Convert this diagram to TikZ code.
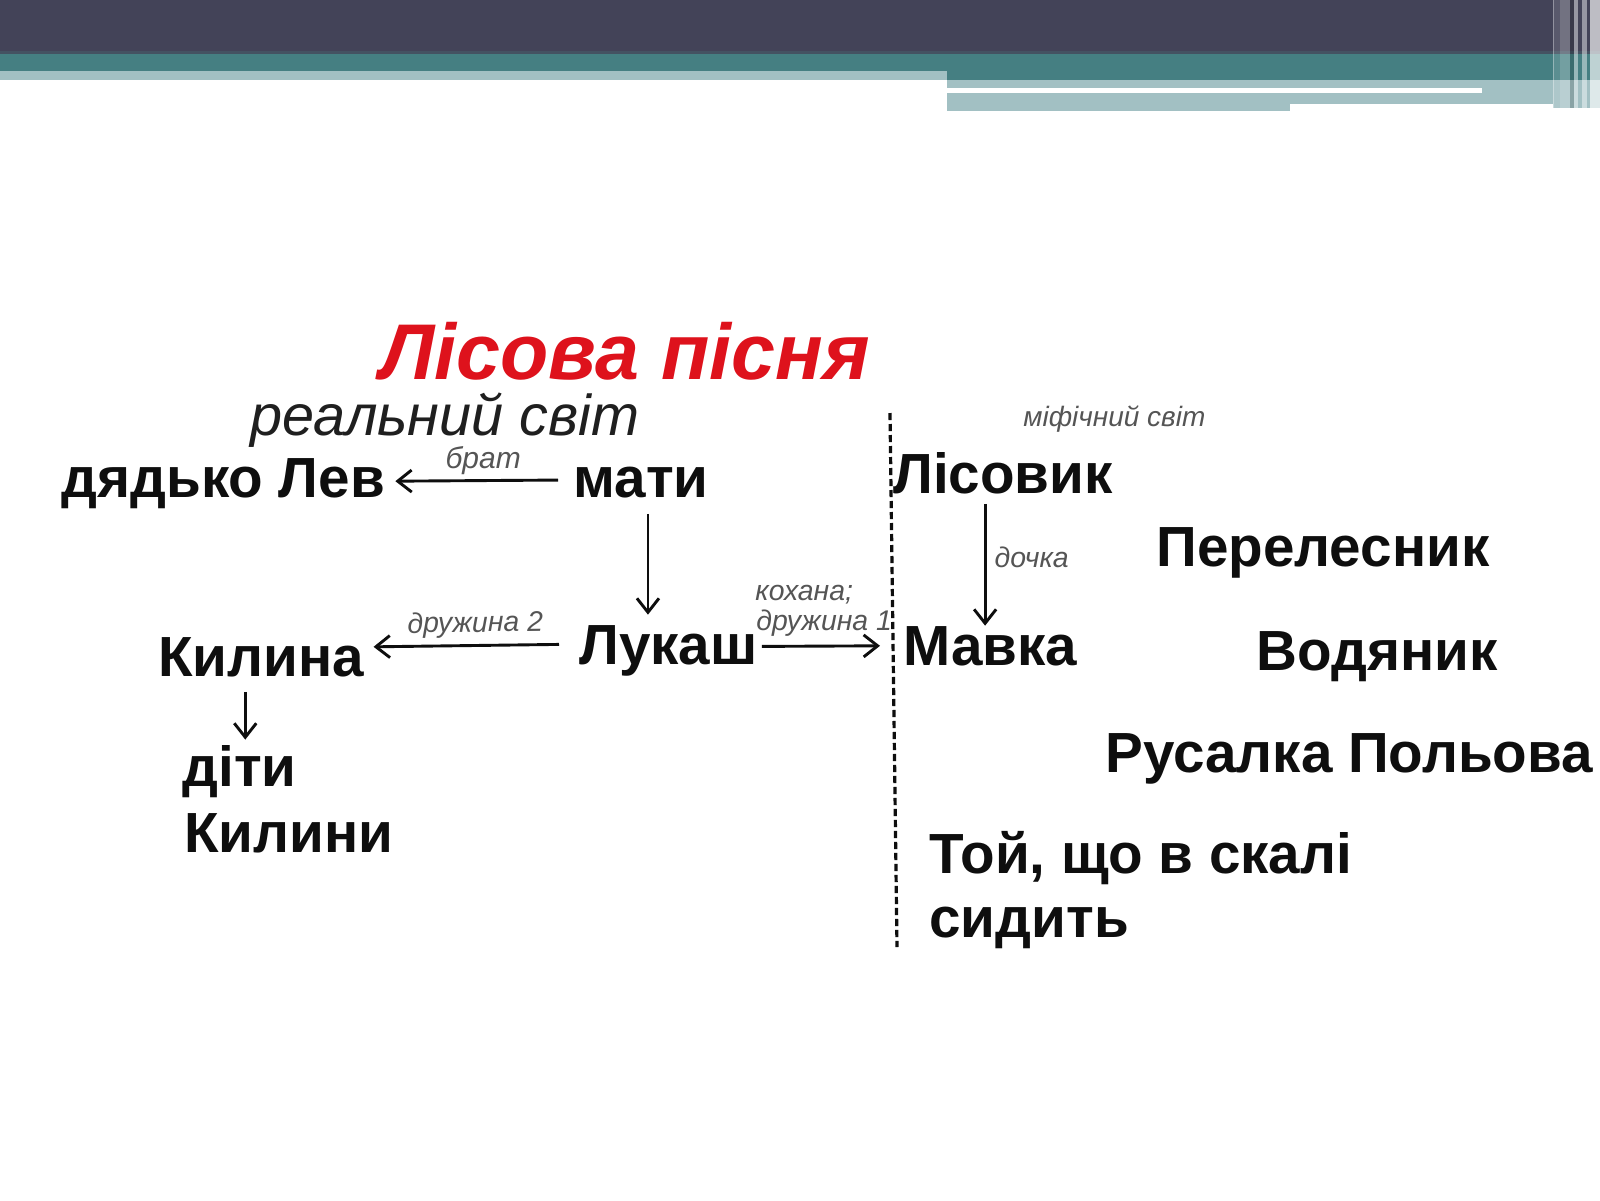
\documentclass[tikz,border=0pt]{standalone}
\usepackage{fontspec}
\setmainfont{Liberation Sans}
\usetikzlibrary{arrows.meta}
\definecolor{hdark}{RGB}{67,67,88}
\definecolor{hteal}{RGB}{69,127,130}
\definecolor{hlight}{RGB}{162,192,195}
\definecolor{titlered}{RGB}{222,18,28}
\definecolor{lblgray}{RGB}{85,85,85}
\definecolor{txt}{RGB}{14,14,14}
\begin{document}
\begin{tikzpicture}[x=0.5pt,y=-0.5pt,
  nm/.style={font=\fontsize{28.3}{31}\selectfont\bfseries, text=txt, inner sep=0pt, anchor=base west},
  lbl/.style={font=\fontsize{14.2}{15}\selectfont\itshape, text=lblgray, inner sep=0pt},
  arr/.style={line width=1.45pt, draw=txt, -{Straight Barb[length=7pt,width=11pt,line width=1.45pt]}},
  stripe/.style={fill=white, fill opacity=#1}
  ]
\useasboundingbox (0,0) rectangle (1600,1200);
\fill[white] (0,0) rectangle (1600,1200);
% header bands
\fill[hdark] (0,0) rectangle (1600,53);
\fill[hdark!75!hteal] (0,51) rectangle (1600,54);
\fill[hteal] (0,54) rectangle (947,71);
\fill[hlight] (0,71) rectangle (947,80);
\fill[hteal] (947,54) rectangle (1600,80);
\fill[hlight] (947,80) rectangle (1600,104);
\fill[hlight] (947,104) rectangle (1290,111);
\fill[hlight] (1553,104) rectangle (1600,108);
\fill[white] (947,88) rectangle (1482,93);
% right edge stripes
\fill[stripe=0.12] (1553,0) rectangle (1560,108);
\fill[stripe=0.25] (1560,0) rectangle (1570,108);
\fill[black, fill opacity=0.15] (1570,0) rectangle (1574,108);
\fill[stripe=0.45] (1574,0) rectangle (1578,108);
\fill[stripe=0.45] (1582,0) rectangle (1587,108);
\fill[stripe=0.65] (1590,0) rectangle (1600,108);
\fill[stripe=0.35] (1553,0) rectangle (1554,108);

% title and headings
\node[inner sep=0pt, anchor=base west, text=titlered, font=\fontsize{39.5}{42}\selectfont\bfseries\itshape] (title) at (380,379) {Лісова пісня};
\node[inner sep=0pt, anchor=base west, text=black!88, font=\fontsize{28.8}{31}\selectfont\itshape] (real) at (250,435) {реальний світ};
\node[lbl, anchor=base west, font=\fontsize{14}{16}\selectfont\itshape] (myth) at (1023,426) {міфічний світ};

% real world
\node[nm] (lev) at (61,497) {дядько Лев};
\node[nm] (mati) at (573,497) {мати};
\node[nm] (lukash) at (579,664) {Лукаш};
\node[nm] (kylyna) at (158,676) {Килина};
\node[nm] (diti) at (182,786) {діти};
\node[nm] (kylyny) at (184,852) {Килини};

% mythical world
\node[nm] (lisovyk) at (893,493) {Лісовик};
\node[nm] (mavka) at (903,665) {Мавка};
\node[nm] (pereles) at (1156,566) {Перелесник};
\node[nm] (vodyanyk) at (1256,670) {Водяник};
\node[nm] (rusalka) at (1105,772) {Русалка Польова};
\node[nm] (toi) at (929,873) {Той, що в скалі};
\node[nm] (sydyt) at (929,937) {сидить};

% divider
\coordinate (dtop) at (890,413);
\coordinate (dbot) at (897,947);
\draw[draw=txt, line width=1.6pt, dash pattern=on 3.6pt off 1.9pt] (dtop) -- (dbot);

% connectors
\draw[arr] ([shift={(-15,-2)}]mati.west) -- node[lbl, pos=0.46, above=2pt, font=\fontsize{15}{16}\selectfont\itshape] {брат} ([shift={(10,-2)}]lev.east);
\draw[arr] ([shift={(7,16)}]mati.south) coordinate (m1) -- ([yshift=5pt]m1 |- lukash.north);
\draw[arr] ([shift={(-20,-6)}]lukash.west) -- node[lbl, pos=0.45, above=3pt, sloped] {дружина 2} ([shift={(9,-10)}]kylyna.east);
\draw[arr] ([shift={(4,-4)}]lukash.east) -- ([shift={(-23,0)}]mavka.west);
\node[lbl, anchor=base west] (kohana) at (755,600) {кохана;};
\node[lbl, anchor=base west] (druzh1) at (756,630) {дружина 1};
\draw[arr] ([shift={(-16,15)}]kylyna.south) coordinate (k1) -- ([yshift=2.5pt]k1 |- diti.north);
\draw[arr] ([shift={(-18,10)}]lisovyk.south) coordinate (l1) -- node[lbl, pos=0.44, right=4pt] {дочка} (l1 |- mavka.north);
\end{tikzpicture}
\end{document}
